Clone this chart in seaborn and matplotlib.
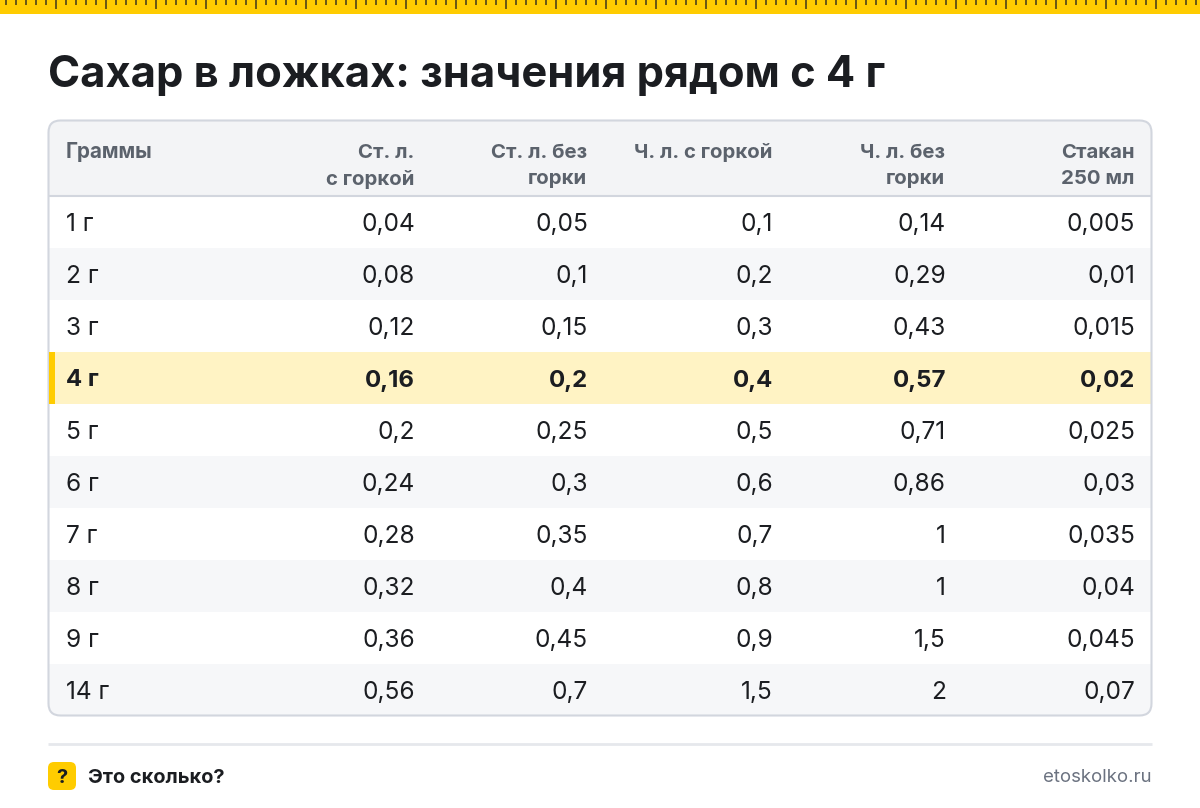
import numpy as np
import matplotlib
matplotlib.use("Agg")
import matplotlib.pyplot as plt
from matplotlib.colors import ListedColormap
from matplotlib.patches import FancyBboxPatch, Rectangle
import seaborn as sns

title = "Сахар в ложках: значения рядом с 4 г"
header_labels = [["Граммы"], ["Ст. л.", "с горкой"], ["Ст. л. без", "горки"],
                 ["Ч. л. с горкой"], ["Ч. л. без", "горки"], ["Стакан", "250 мл"]]
grams = ["1 г", "2 г", "3 г", "4 г", "5 г", "6 г", "7 г", "8 г", "9 г", "14 г"]
tbsp_heaped = ["0,04", "0,08", "0,12", "0,16", "0,2", "0,24", "0,28", "0,32", "0,36", "0,56"]
tbsp_level = ["0,05", "0,1", "0,15", "0,2", "0,25", "0,3", "0,35", "0,4", "0,45", "0,7"]
tsp_heaped = ["0,1", "0,2", "0,3", "0,4", "0,5", "0,6", "0,7", "0,8", "0,9", "1,5"]
tsp_level = ["0,14", "0,29", "0,43", "0,57", "0,71", "0,86", "1", "1", "1,5", "2"]
glass = ["0,005", "0,01", "0,015", "0,02", "0,025", "0,03", "0,035", "0,04", "0,045", "0,07"]
row_shade = [0, 1, 0, 2, 0, 1, 0, 1, 0, 1]
highlight = "4 г"
footer_left = "Это сколько?"
footer_right = "etoskolko.ru"

FONT = "Inter"
INK = "#1b1d21"
YELLOW = "#ffcc00"

sns.set_theme(style="white", rc={"font.family": [FONT, "DejaVu Sans"]})
fig = plt.figure(figsize=(12, 8.08), dpi=100, facecolor="white")

# pixel-space canvas
ax = fig.add_axes([0, 0, 1, 1], zorder=1)
ax.set_xlim(0, 1200); ax.set_ylim(808, 0); ax.axis("off")

def fs(px):
    return px * 72 / 100

# ruler
ax.add_patch(Rectangle((0, 0), 1200, 14, fc=YELLOW, ec="none"))
for k, x in enumerate(range(6, 1200, 10)):
    major = k % 5 == 0 and k > 0
    ax.add_patch(Rectangle((x - 1, 0), 2, 9 if major else 5, fc="#6b5a14", ec="none"))

ax.text(48, 71, title, fontsize=fs(43.4), fontweight="bold", color=INK, va="center_baseline", ha="left")

# table outline and header
outline = FancyBboxPatch((48.5, 120.5), 1103, 595, boxstyle="round,pad=0,rounding_size=12",
                         fc="white", ec="none", zorder=0)
ax.add_patch(outline)
clip = FancyBboxPatch((48.5, 120.5), 1103, 595, boxstyle="round,pad=0,rounding_size=12",
                      fc="none", ec="none", transform=ax.transData)
ax.add_patch(clip)
head = ax.add_patch(Rectangle((48, 120), 1104, 75.5, fc="#f3f4f6", ec="none", zorder=0.5))
head.set_clip_path(clip)

# rows as a seaborn heatmap
hax = fig.add_axes([49 / 1200, 1 - 716 / 808, 1102 / 1200, 520 / 808], zorder=2)
hax.patch.set_alpha(0)
cmap = ListedColormap(["#ffffff", "#f6f7f9", "#fff3c4"])
sns.heatmap(np.array(row_shade).reshape(-1, 1), ax=hax, cmap=cmap, vmin=-0.5, vmax=2.5,
            cbar=False, xticklabels=False, yticklabels=False, linewidths=0)
mesh = hax.collections[0]
mesh.set_clip_path(clip)

# overlay for text above the heatmap
top = fig.add_axes([0, 0, 1, 1], zorder=3)
top.set_xlim(0, 1200); top.set_ylim(808, 0); top.axis("off"); top.patch.set_alpha(0)
top.add_patch(FancyBboxPatch((48.5, 120.5), 1103, 595, boxstyle="round,pad=0,rounding_size=12",
                             fc="none", ec="#d2d6de", lw=1.5))
top.plot([49, 1151], [195.5, 195.5], color="#d2d6de", lw=1.5, solid_capstyle="butt")

right_edges = [415, 588, 773, 946, 1135]
columns = [tbsp_heaped, tbsp_level, tsp_heaped, tsp_level, glass]

for j, lines in enumerate(header_labels):
    for i, line in enumerate(lines):
        y = 150.5 + i * 27
        if j == 0:
            top.text(66, y, line, fontsize=fs(20.6), fontweight="bold", color="#5b626c", ha="left", va="center_baseline")
        else:
            top.text(right_edges[j - 1] - 0.8, y, line, fontsize=fs(20.4), fontweight="bold", color="#5b626c", ha="right", va="center_baseline")

for r, g in enumerate(grams):
    y = 222 + 52 * r
    hi = g == highlight
    w = "bold" if hi else "normal"
    size = 24 if hi else 24.5
    top.text(66, y, g, fontsize=fs(size), fontweight=w, color=INK, ha="left", va="center_baseline")
    for col, xr in zip(columns, right_edges):
        top.text(xr, y, col[r], fontsize=fs(size), fontweight=w, color=INK, ha="right", va="center_baseline")
    if hi:
        top.add_patch(Rectangle((49, 196 + 52 * r), 6, 52, fc=YELLOW, ec="none"))

# footer
top.plot([48, 1152], [744, 744], color="#e6e8ec", lw=2, solid_capstyle="butt")
top.add_patch(FancyBboxPatch((48, 762), 28, 28, boxstyle="round,pad=0,rounding_size=6", fc=YELLOW, ec="none"))
top.text(62, 776, "?", fontsize=fs(20), fontweight="bold", color=INK, ha="center", va="center_baseline")
top.text(88, 776, footer_left, fontsize=fs(20), fontweight="bold", color=INK, ha="left", va="center_baseline")
top.text(1152, 776, footer_right, fontsize=fs(18.6), color="#6b7280", ha="right", va="center_baseline")

fig.savefig("out.png", dpi=100, facecolor="white")
